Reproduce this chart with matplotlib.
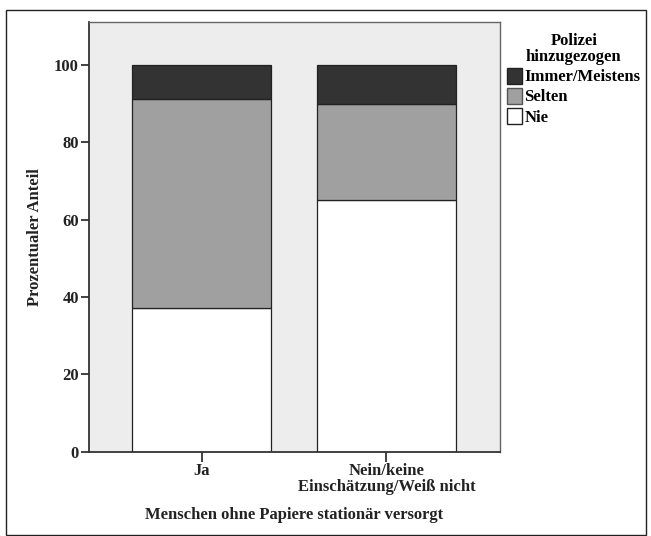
import matplotlib
matplotlib.use("Agg")
import matplotlib.pyplot as plt
from matplotlib.patches import Rectangle, Patch
import numpy as np

categories = ["Ja", "Nein/keine\nEinschätzung/Weiß nicht"]
nie = [37.2, 65.0]
selten = [54.0, 25.0]
immer = [8.8, 10.0]
series_names = ["Immer/Meistens", "Selten", "Nie"]
yticks = [0, 20, 40, 60, 80, 100]

plt.rcParams['font.family'] = ['Liberation Serif', 'DejaVu Serif']
plt.rcParams['font.weight'] = 'bold'

FS = 12
fig = plt.figure(figsize=(6.51, 5.36), dpi=100)
ax = fig.add_axes([88.5/651, 1 - 451.5/536, (499.5 - 88.5)/651, (451.5 - 22)/536])
ax.set_facecolor('#EDEDED')

x = np.arange(len(categories))
w = 0.75
edge = '#222222'
ax.bar(x, nie, w, color='white', edgecolor=edge, linewidth=0.9, zorder=2)
ax.bar(x, selten, w, bottom=nie, color='#A0A0A0', edgecolor=edge, linewidth=0.9, zorder=2)
ax.bar(x, immer, w, bottom=np.array(nie) + np.array(selten), color='#333333', edgecolor=edge, linewidth=0.9, zorder=2)

ax.set_xlim(-0.613, 1.613)
ax.set_ylim(0, 111.1)
ax.set_yticks(yticks)
ax.set_yticklabels([str(v) for v in yticks], fontsize=FS, fontweight='bold')
ax.set_xticks(x)
ax.set_xticklabels(categories, fontsize=FS, fontweight='bold', linespacing=1.0)
ax.tick_params(axis='y', length=6, width=1.2, direction='out', pad=1, colors='#222222')
ax.tick_params(axis='x', length=7, width=1.2, direction='out', pad=1, colors='#222222')
for lbl in ax.get_xticklabels() + ax.get_yticklabels():
    lbl.set_color('#222222')

for s in ['left', 'bottom']:
    ax.spines[s].set_color('#333333')
    ax.spines[s].set_linewidth(1.3)
for s in ['top', 'right']:
    ax.spines[s].set_color('#666666')
    ax.spines[s].set_linewidth(1.0)

ax.set_xlabel("Menschen ohne Papiere stationär versorgt", fontsize=FS, fontweight='bold', labelpad=9, color='#222222')
ax.set_ylabel("Prozentualer Anteil", fontsize=FS, fontweight='bold', labelpad=8, color='#222222')

handles = [Patch(facecolor='#333333', edgecolor='#222222'),
           Patch(facecolor='#A0A0A0', edgecolor='#555555'),
           Patch(facecolor='white', edgecolor='#222222')]
leg = fig.legend(handles, series_names, loc='upper left', bbox_to_anchor=(507/651, 1 - 33/536),
                 frameon=False, title="Polizei\nhinzugezogen",
                 prop={'weight': 'bold', 'size': FS},
                 title_fontproperties={'weight': 'bold', 'size': FS},
                 handlelength=0.9, handleheight=1.1, handletextpad=0.15,
                 labelspacing=0.15, borderaxespad=0, borderpad=0)
leg.get_title().set_multialignment('center')
leg.get_title().set_linespacing(1.0)

fig.patches.append(Rectangle((6/651, 1 - 535/536), (646 - 6)/651, (535 - 10)/536,
                             transform=fig.transFigure, fill=False,
                             edgecolor='#222222', linewidth=1.0))

fig.savefig("out.png", dpi=100)
